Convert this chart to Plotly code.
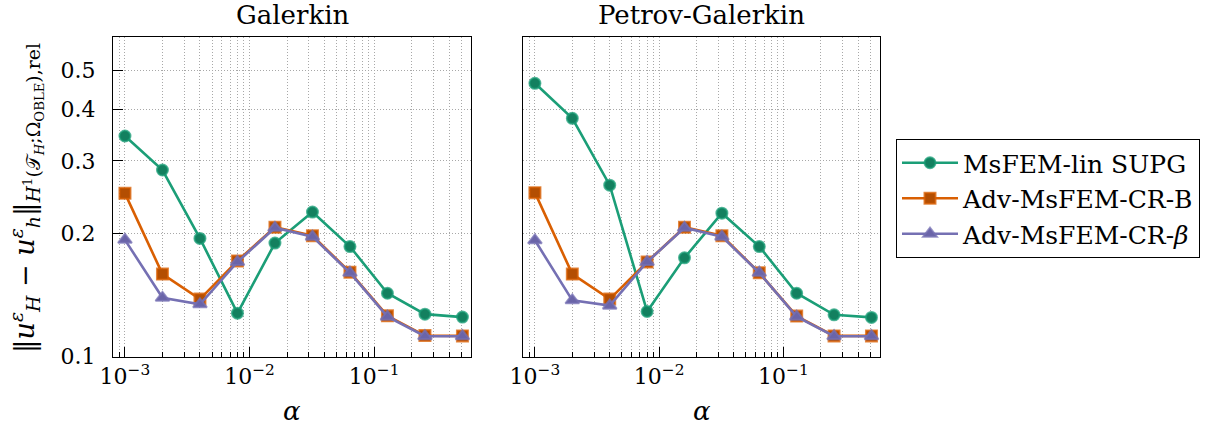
import plotly.graph_objects as go

# Data: relative broken-H1 error versus the stabilisation parameter alpha
alpha = [0.001, 0.002, 0.004, 0.008, 0.016, 0.032, 0.064, 0.128, 0.256, 0.512]

gal_supg = [0.345, 0.285, 0.194, 0.1275, 0.189, 0.225, 0.1854, 0.1426, 0.1268, 0.1247]
gal_cr_b = [0.250, 0.1588, 0.138, 0.171, 0.2066, 0.197, 0.1605, 0.1256, 0.1124, 0.1122]
gal_cr_beta = [0.1925, 0.139, 0.134, 0.170, 0.206, 0.196, 0.160, 0.125, 0.112, 0.112]

pg_supg = [0.464, 0.381, 0.2617, 0.1287, 0.174, 0.2236, 0.1854, 0.1426, 0.1263, 0.1245]
pg_cr_b = [0.251, 0.1588, 0.138, 0.170, 0.2066, 0.197, 0.160, 0.1254, 0.1122, 0.1122]
pg_cr_beta = [0.192, 0.137, 0.133, 0.170, 0.206, 0.196, 0.160, 0.125, 0.112, 0.112]

panel_titles = ["Galerkin", "Petrov-Galerkin"]
series_names = ["MsFEM-lin SUPG", "Adv-MsFEM-CR-B", "Adv-MsFEM-CR-<i>β</i>"]

x_major = [1e-3, 1e-2, 1e-1]
x_major_text = ["10<sup>−3</sup>", "10<sup>−2</sup>", "10<sup>−1</sup>"]
y_ticks = [0.1, 0.2, 0.3, 0.4, 0.5]
y_tick_text = ["0.1", "0.2", "0.3", "0.4", "0.5"]

FONT = "DejaVu Serif"
W, H = 1228, 431

styles = [
    dict(color="#1b9e77", face="#13805f", symbol="circle", size=11),
    dict(color="#d95f02", face="#b34e02", symbol="square", size=11),
    dict(color="#7570b3", face="#6a64a8", symbol="triangle-up", size=12),
]


def rgba(hex_color, a):
    h = hex_color.lstrip("#")
    r, g, b = int(h[0:2], 16), int(h[2:4], 16), int(h[4:6], 16)
    return f"rgba({r},{g},{b},{a})"


# minor grid positions: 2..9 within each decade, clipped to the axis range
x_minor = [m * 10.0 ** e for e in range(-4, 0) for m in range(2, 10)]
x_minor = [v for v in x_minor if 7.9e-4 < v < 0.6]

fig = go.Figure()

panels = [
    ("x", "y", [gal_supg, gal_cr_b, gal_cr_beta], True),
    ("x2", "y2", [pg_supg, pg_cr_b, pg_cr_beta], False),
]
for xa, ya, series, show in panels:
    for name, vals, st in zip(series_names, series, styles):
        fig.add_trace(go.Scatter(
            x=alpha, y=vals, name=name, xaxis=xa, yaxis=ya,
            mode="lines+markers", showlegend=show,
            line=dict(color=st["color"], width=2.6),
            marker=dict(symbol=st["symbol"], size=st["size"], color=st["face"],
                        line=dict(color=rgba(st["color"], 0.75), width=2)),
        ))

x_dom = [(113 / W, 471 / W), (523 / W, 880 / W)]
y_dom = (1 - 357 / H, 1 - 37 / H)

grid_col = "#a8a8a8"
grid_dash = "1px,2px"
TICK_SIZE = 22
common_x = dict(
    type="log", range=[-3.096, -0.222], showline=True, linecolor="black", linewidth=1,
    mirror=True, ticks="inside", ticklen=10, tickwidth=1.2, tickcolor="black",
    tickvals=x_major, ticktext=x_major_text,
    showgrid=True, gridcolor=grid_col, griddash=grid_dash, gridwidth=1,
    minor=dict(tickvals=x_minor, ticks="inside", ticklen=5, tickcolor="black",
               showgrid=True, gridcolor=grid_col, griddash=grid_dash, gridwidth=1),
    tickfont=dict(family=FONT, size=TICK_SIZE, color="black"), zeroline=False,
    automargin=False,
)
common_y = dict(
    type="log", range=[-1.0015, -0.2205], showline=True, linecolor="black", linewidth=1,
    mirror=True, tickvals=y_ticks, ticktext=y_tick_text,
    showgrid=True, gridcolor=grid_col, griddash=grid_dash, gridwidth=1,
    tickfont=dict(family=FONT, size=TICK_SIZE, color="black"), zeroline=False,
    automargin=False,
)

fig.update_layout(
    width=W, height=H,
    margin=dict(l=0, r=0, t=0, b=0),
    paper_bgcolor="white", plot_bgcolor="white",
    font=dict(family=FONT, size=TICK_SIZE, color="black"),
    xaxis=dict(common_x, domain=x_dom[0], anchor="y"),
    xaxis2=dict(common_x, domain=x_dom[1], anchor="y2"),
    yaxis=dict(common_y, domain=y_dom, anchor="x", ticks="inside", ticklen=10,
               tickwidth=1.2, tickcolor="black", ticklabelstandoff=12),
    yaxis2=dict(common_y, domain=y_dom, anchor="x2", ticks="", showticklabels=False),
    legend=dict(x=896 / W, y=1 - 139 / H, xanchor="left", yanchor="top",
                bordercolor="black", borderwidth=1, bgcolor="white",
                font=dict(family=FONT, size=25, color="black"),
                tracegroupgap=0, itemwidth=56),
)

annotations = []
for (x0, x1), title in zip(x_dom, panel_titles):
    cx = (x0 + x1) / 2
    annotations.append(dict(text=title, x=cx, y=1 - 15 / H, xref="paper", yref="paper",
                            xanchor="center", yanchor="middle", showarrow=False,
                            font=dict(family=FONT, size=26)))
    annotations.append(dict(text="<i>α</i>", x=cx, y=1 - 411 / H, xref="paper", yref="paper",
                            xanchor="center", yanchor="middle", showarrow=False,
                            font=dict(family=FONT, size=26)))

y_title = ("‖<i>u</i><sup><i>ε</i></sup><sub><i>H</i></sub> − "
           "<i>u</i><sup><i>ε</i></sup><sub><i>h</i></sub>‖"
           "<sub><i>H</i><sup>1</sup>(𝒯<sub><i>H</i></sub>;Ω<sub>OBLE</sub>),rel</sub>")
annotations.append(dict(text=y_title, x=26 / W, y=1 - 198 / H, xref="paper", yref="paper",
                        xanchor="center", yanchor="middle",
                        showarrow=False, textangle=-90, font=dict(family=FONT, size=27)))
fig.update_layout(annotations=annotations)

fig.write_html("out.html")
